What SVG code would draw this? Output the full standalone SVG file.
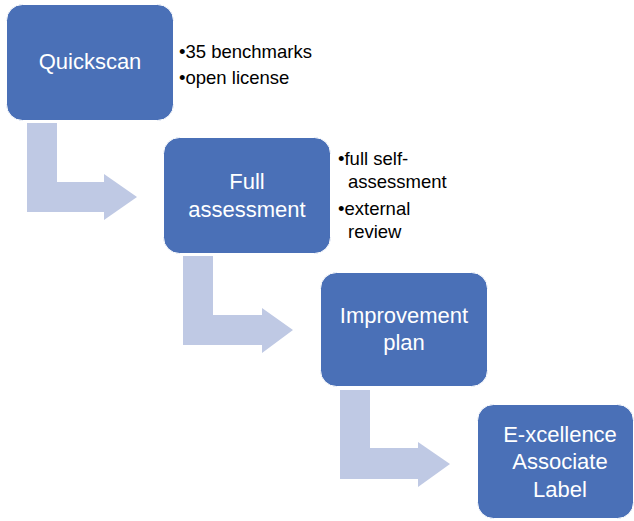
<svg xmlns="http://www.w3.org/2000/svg" width="634" height="521" viewBox="0 0 634 521">
<style>
.box{fill:#4A70B7;stroke:#FFFFFF;stroke-width:1}
.arrow{fill:#BFC9E4}
.lbl{font-family:"Liberation Sans",Arial,sans-serif;font-size:22px;fill:#FFFFFF;text-anchor:middle}
.bul{font-family:"Liberation Sans",Arial,sans-serif;font-size:18.5px;fill:#000000}
</style>
<rect width="634" height="521" fill="#FFFFFF"/>
<g id="connectors">
<path class="arrow" d="M27,123 H57 V182 H104 V174 L137,197 L104,220 V212 H27 Z"/>
<path class="arrow" d="M183,256 H213 V315 H262 V308 L293,330 L262,353 V345 H183 Z"/>
<path class="arrow" d="M340,390 H370 V448 H418 V442 L450,464 L418,487 V479 H340 Z"/>
</g>
<g id="quickscan">
<rect class="box" x="6.5" y="4.5" width="167" height="116" rx="16"/>
<text class="lbl" x="90" y="69">Quickscan</text>
<text class="bul" x="179" y="58">•35 benchmarks</text>
<text class="bul" x="179" y="84">•open license</text>
</g>
<g id="full-assessment">
<rect class="box" x="163.5" y="137.5" width="167" height="116" rx="16"/>
<text class="lbl" x="247" y="189">Full</text>
<text class="lbl" x="247" y="217">assessment</text>
<text class="bul" x="338" y="165">•full self-</text>
<text class="bul" x="348" y="188">assessment</text>
<text class="bul" x="338" y="215">•external</text>
<text class="bul" x="348" y="238">review</text>
</g>
<g id="improvement-plan">
<rect class="box" x="320.5" y="272.5" width="167" height="114" rx="16"/>
<text class="lbl" x="404" y="323">Improvement</text>
<text class="lbl" x="404" y="350">plan</text>
</g>
<g id="label">
<rect class="box" x="477.5" y="404.5" width="156" height="114" rx="16"/>
<text class="lbl" x="560" y="442">E-xcellence</text>
<text class="lbl" x="560" y="469">Associate</text>
<text class="lbl" x="560" y="497">Label</text>
</g>
</svg>
